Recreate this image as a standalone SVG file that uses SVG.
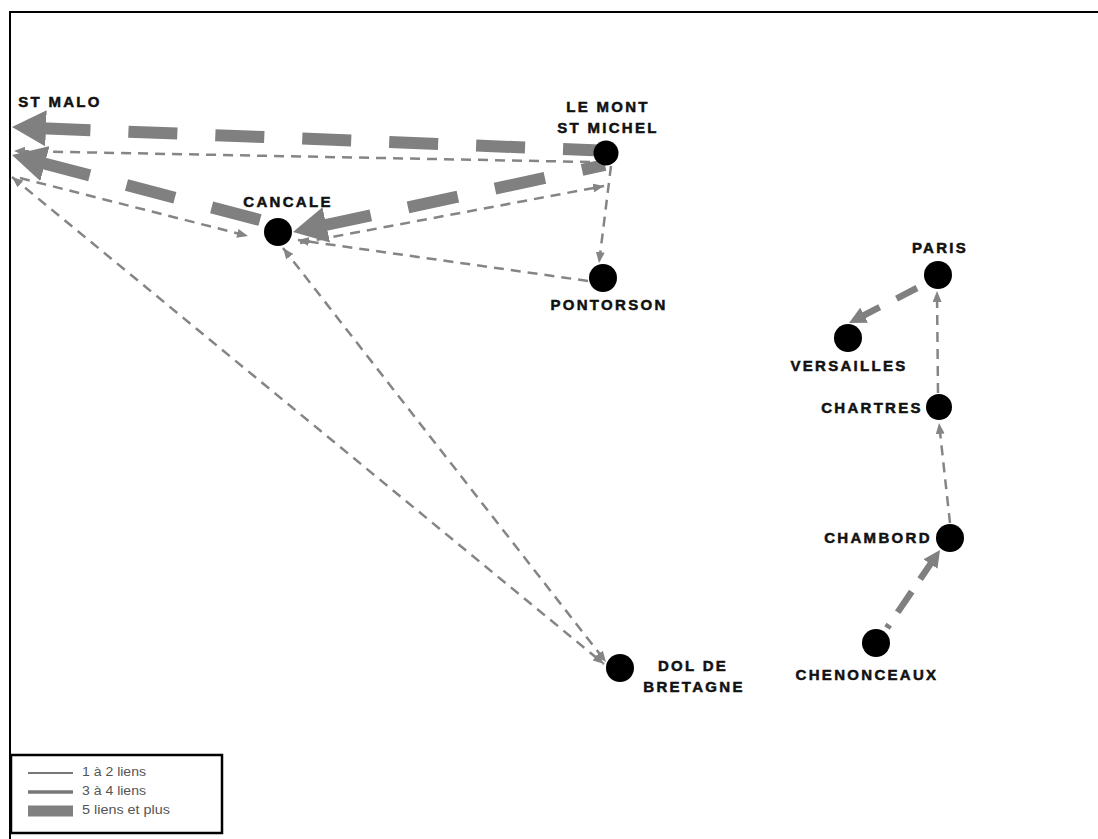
<svg xmlns="http://www.w3.org/2000/svg" width="1098" height="839" viewBox="0 0 1098 839">
  <style>
    .thin { fill: none; stroke: #858585; stroke-width: 2.5; stroke-dasharray: 10 7; }
    .med { fill: none; stroke: #808080; stroke-width: 6.5; }
    .thick { fill: none; stroke: #808080; stroke-width: 12; }
    .node { fill: #000; }
    .lbl { font-family: "Liberation Sans", Arial, sans-serif; font-weight: bold; font-size: 15px; letter-spacing: 2.3px; fill: #111; stroke: #111; stroke-width: 0.5; text-anchor: middle; }
    .leg { font-family: "Liberation Sans Narrow", "Liberation Sans", Arial, sans-serif; font-size: 12px; fill: #555; }
  </style>
  <defs>
    <marker id="ahThin" markerUnits="userSpaceOnUse" markerWidth="11" markerHeight="9" refX="11" refY="4.5" orient="auto-start-reverse">
      <path d="M0,0 L11,4.5 L0,9 z" fill="#858585"/>
    </marker>
    <marker id="ahMed" markerUnits="userSpaceOnUse" markerWidth="17" markerHeight="17" refX="17" refY="8.5" orient="auto">
      <path d="M0,0 L17,8.5 L0,17 z" fill="#808080"/>
    </marker>
    <marker id="ahThick" markerUnits="userSpaceOnUse" markerWidth="34" markerHeight="36" refX="34" refY="18" orient="auto">
      <path d="M0,0 L34,18 L0,36 z" fill="#808080"/>
    </marker>
  </defs>
  <rect width="1098" height="839" fill="#fff"/>
  <path d="M10,839 L10,12 L1098,12" fill="none" stroke="#000" stroke-width="2"/>

  <g id="connectors">
    <path class="thin" d="M590,162 L14,151" marker-end="url(#ahThin)"/>
    <path class="thin" d="M20,178 L248,236" marker-end="url(#ahThin)"/>
    <path class="thin" d="M12,177 L604,664" marker-start="url(#ahThin)" marker-end="url(#ahThin)"/>
    <path class="thin" d="M283,248 L606,662" marker-start="url(#ahThin)" marker-end="url(#ahThin)"/>
    <path class="thin" d="M300,243 L604,186" marker-end="url(#ahThin)"/>
    <path class="thin" d="M588,281 L298,240" marker-end="url(#ahThin)"/>
    <path class="thin" d="M611,166 L599,263" marker-end="url(#ahThin)"/>
    <path class="thin" d="M938,393 L937,291" marker-end="url(#ahThin)"/>
    <path class="thin" d="M950,523 L939,423" marker-end="url(#ahThin)"/>

    <path class="med" d="M917,288 L849,323" stroke-dasharray="23 19" marker-end="url(#ahMed)"/>
    <path class="med" d="M887,628 L940,550" stroke-dasharray="25 15" stroke-dashoffset="21" marker-end="url(#ahMed)"/>

    <path class="thick" d="M612,151 L12,127" stroke-dasharray="49 38" marker-end="url(#ahThick)"/>
    <path class="thick" d="M260,220 L12,155" stroke-dasharray="50 38" marker-end="url(#ahThick)"/>
    <path class="thick" d="M605,165 L293,232" stroke-dasharray="51 38" stroke-dashoffset="27.5" marker-end="url(#ahThick)"/>
  </g>

  <g id="st-malo">
    <text class="lbl" x="60" y="107">ST MALO</text>
  </g>
  <g id="mont-st-michel">
    <circle class="node" cx="606" cy="153" r="12.5"/>
    <text class="lbl" x="608" y="112">LE MONT</text>
    <text class="lbl" x="608" y="133">ST MICHEL</text>
  </g>
  <g id="cancale">
    <circle class="node" cx="278" cy="232" r="14"/>
    <text class="lbl" x="288" y="207">CANCALE</text>
  </g>
  <g id="pontorson">
    <circle class="node" cx="603" cy="278" r="14"/>
    <text class="lbl" x="609" y="310">PONTORSON</text>
  </g>
  <g id="paris">
    <circle class="node" cx="938" cy="275" r="14"/>
    <text class="lbl" x="940" y="253">PARIS</text>
  </g>
  <g id="versailles">
    <circle class="node" cx="848" cy="338" r="14"/>
    <text class="lbl" x="849" y="371">VERSAILLES</text>
  </g>
  <g id="chartres">
    <circle class="node" cx="939" cy="407" r="13"/>
    <text class="lbl" x="872" y="413">CHARTRES</text>
  </g>
  <g id="chambord">
    <circle class="node" cx="950" cy="538" r="14"/>
    <text class="lbl" x="878" y="543">CHAMBORD</text>
  </g>
  <g id="chenonceaux">
    <circle class="node" cx="876" cy="643" r="14"/>
    <text class="lbl" x="867" y="680">CHENONCEAUX</text>
  </g>
  <g id="dol-de-bretagne">
    <circle class="node" cx="620" cy="668" r="14"/>
    <text class="lbl" x="693" y="671">DOL DE</text>
    <text class="lbl" x="694" y="692">BRETAGNE</text>
  </g>

  <g id="legend">
    <rect x="11" y="755" width="211" height="78" fill="#fff" stroke="#000" stroke-width="2.5"/>
    <line x1="28" y1="773" x2="73" y2="773" stroke="#777" stroke-width="2"/>
    <line x1="28" y1="792" x2="73" y2="792" stroke="#777" stroke-width="3.5"/>
    <line x1="28" y1="811" x2="73" y2="811" stroke="#808080" stroke-width="11"/>
    <text class="leg" x="82" y="776" textLength="64" lengthAdjust="spacingAndGlyphs">1 à 2 liens</text>
    <text class="leg" x="82" y="795" textLength="64" lengthAdjust="spacingAndGlyphs">3 à 4 liens</text>
    <text class="leg" x="82" y="814" textLength="88" lengthAdjust="spacingAndGlyphs">5 liens et plus</text>
  </g>
</svg>
